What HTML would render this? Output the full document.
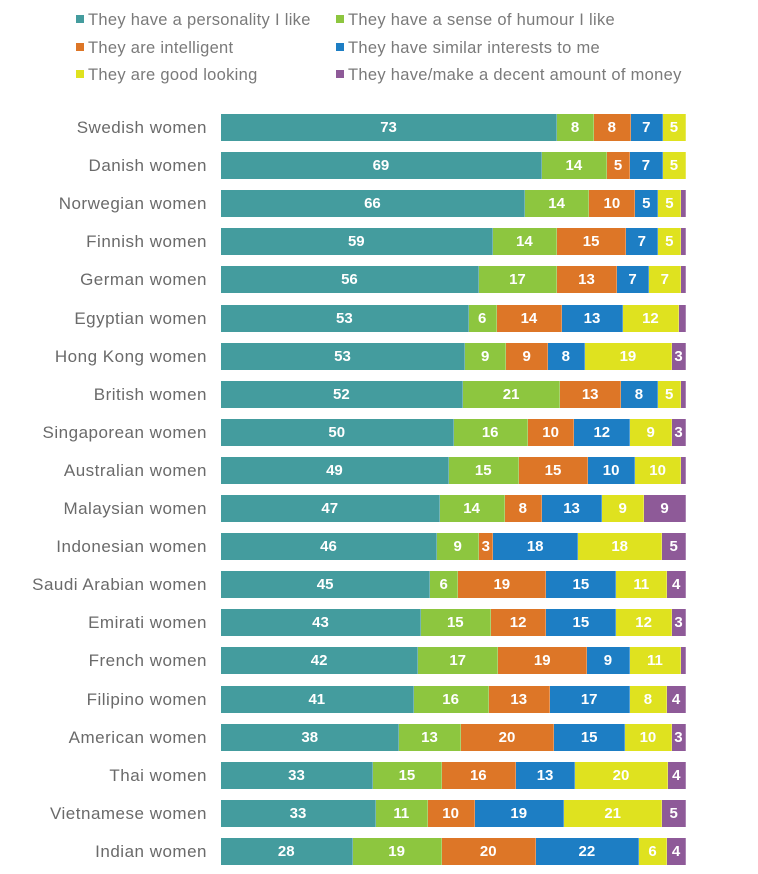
<!DOCTYPE html><html><head><style>
body{margin:0;background:#fff;width:758px;height:874px;overflow:hidden;font-family:"Liberation Sans",sans-serif;}
.lg{position:absolute;font-size:16.5px;color:#7a7a7a;white-space:nowrap;letter-spacing:0.3px}
.lg i{display:inline-block;width:8px;height:8px;margin-right:4px;vertical-align:2px}
.lab{position:absolute;right:551px;font-size:17px;letter-spacing:0.5px;color:#6a6a6a;white-space:nowrap;text-align:right;line-height:27px}
.bar{position:absolute;left:221px;width:465px;height:27px;display:flex}
.bar div{height:27px;color:#fff;font-weight:bold;font-size:15px;line-height:27px;text-align:center;overflow:hidden;box-sizing:border-box;border-right:1px solid rgba(255,255,255,.25)}
</style></head><body>
<div class="lg" style="left:76px;top:11px"><i style="background:#449c9e"></i>They have a personality I like</div>
<div class="lg" style="left:336px;top:11px"><i style="background:#8dc63f"></i>They have a sense of humour I like</div>
<div class="lg" style="left:76px;top:39px"><i style="background:#dd7627"></i>They are intelligent</div>
<div class="lg" style="left:336px;top:39px"><i style="background:#1d7ec4"></i>They have similar interests to me</div>
<div class="lg" style="left:76px;top:66px"><i style="background:#dfe21f"></i>They are good looking</div>
<div class="lg" style="left:336px;top:66px"><i style="background:#8e5a98"></i>They have/make a decent amount of money</div>
<div id="c"></div>
<script>
var d=[["Swedish women",73,8,8,7,5,0],["Danish women",69,14,5,7,5,0],["Norwegian women",66,14,10,5,5,1],["Finnish women",59,14,15,7,5,1],["German women",56,17,13,7,7,1],["Egyptian women",53,6,14,13,12,1.5],["Hong Kong women",53,9,9,8,19,3],["British women",52,21,13,8,5,1],["Singaporean women",50,16,10,12,9,3],["Australian women",49,15,15,10,10,1],["Malaysian women",47,14,8,13,9,9],["Indonesian women",46,9,3,18,18,5],["Saudi Arabian women",45,6,19,15,11,4],["Emirati women",43,15,12,15,12,3],["French women",42,17,19,9,11,1],["Filipino women",41,16,13,17,8,4],["American women",38,13,20,15,10,3],["Thai women",33,15,16,13,20,4],["Vietnamese women",33,11,10,19,21,5],["Indian women",28,19,20,22,6,4]];
var col=["#449c9e","#8dc63f","#dd7627","#1d7ec4","#dfe21f","#8e5a98"];
var h="";
d.forEach(function(r,i){var y=114+i*38.1;var s=0;for(var k=1;k<7;k++)s+=r[k];
h+='<div class="lab" style="top:'+y+'px">'+r[0]+'</div><div class="bar" style="top:'+y+'px">';
for(var k=1;k<7;k++){if(!r[k])continue;var w=r[k]/s*465;h+='<div style="width:'+w+'px;background:'+col[k-1]+'">'+(r[k]>=2?r[k]:'')+'</div>';}
h+='</div>';});
document.getElementById("c").innerHTML=h;
</script>
</body></html>
